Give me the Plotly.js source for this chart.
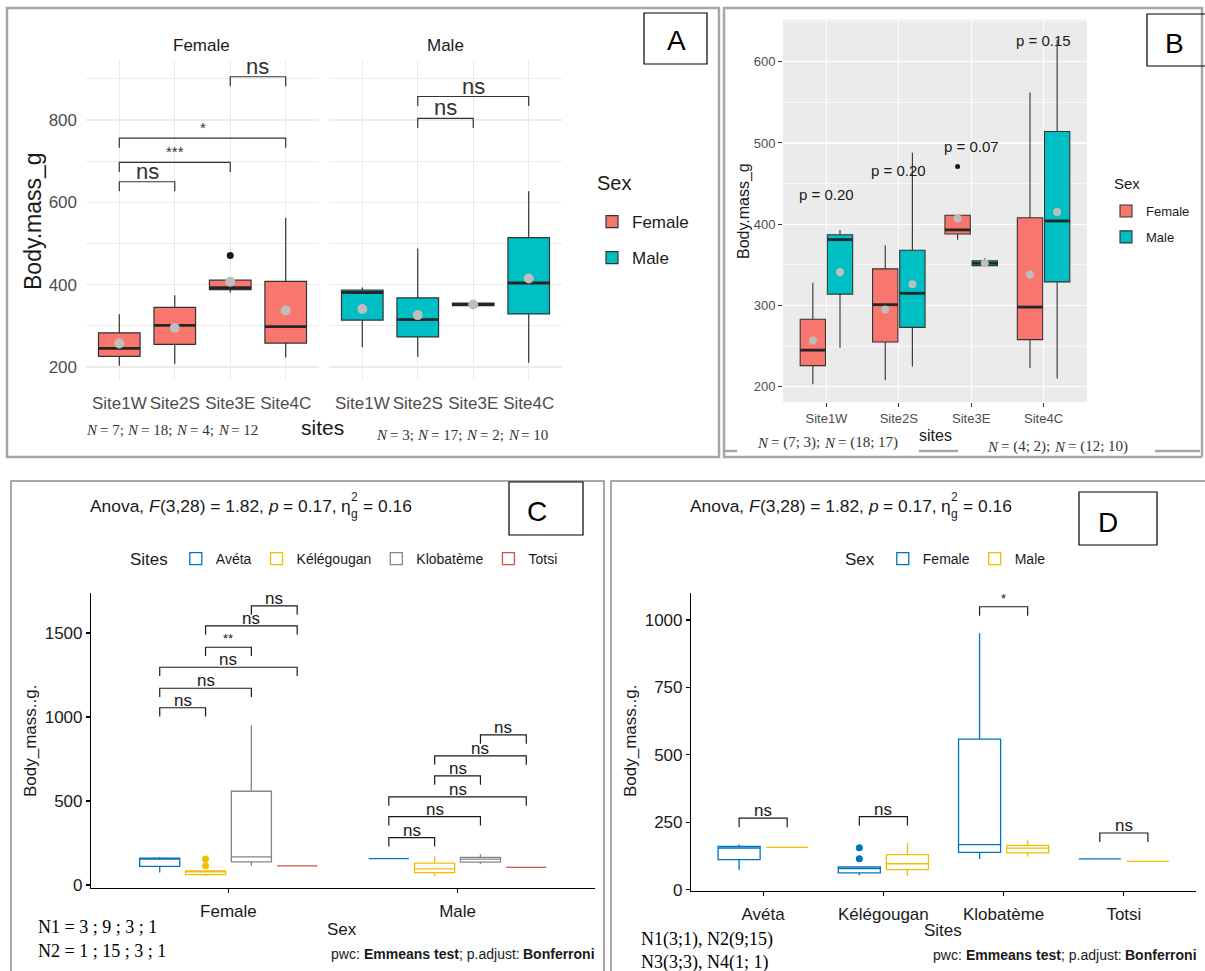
<!DOCTYPE html>
<html><head><meta charset="utf-8">
<script src="https://cdn.plot.ly/plotly-3.0.1.min.js"></script>
<style>html,body{margin:0;padding:0;background:#fff}</style>
</head><body><div id="chart" style="width:1205px;height:971px"></div>
<script>
// ---------- DATA : panels A & B ----------
const sitesAB = ['Site1W','Site2S','Site3E','Site4C'];
const femaleQ1     = [226, 255, 388, 258];
const femaleMedian = [245, 301, 393, 298];
const femaleQ3     = [283, 345, 411, 408];
const femaleLower  = [203, 208, 381, 223];
const femaleUpper  = [328, 374, 411, 562];
const femaleMean   = [257, 295, 407, 338];
const femaleOutlierSite  = [2];
const femaleOutlierValue = [471];
const maleQ1     = [314, 273, 349, 329];
const maleMedian = [381, 315, 352, 404];
const maleQ3     = [387, 368, 355, 514];
const maleLower  = [248, 225, 348, 210];
const maleUpper  = [393, 488, 358, 627];
const maleMean   = [341, 326, 352, 415];
const nFemaleAB = [7, 18, 4, 12];
const nMaleAB   = [3, 17, 2, 10];
// significance brackets, panel A
const compAFemaleFrom = [0, 0, 0, 2];
const compAFemaleTo   = [1, 2, 3, 3];
const compAFemaleY    = [650, 697, 756, 905];
const compAFemaleLab  = ['ns', '***', '*', 'ns'];
const compAMaleFrom = [1, 1];
const compAMaleTo   = [2, 3];
const compAMaleY    = [804, 857];
const compAMaleLab  = ['ns', 'ns'];
// p labels, panel B
const pLabelB = ['p = 0.20', 'p = 0.20', 'p = 0.07', 'p = 0.15'];
const pYB     = [436, 466, 496, 626];

// ---------- DATA : panels C & D ----------
const sitesCD = ['Avéta', 'Kélégougan', 'Klobatème', 'Totsi'];
const sexes = ['Female', 'Male'];
const fQ1  = [111, 62, 138, 114];
const fMed = [154, 78, 167, 114];
const fQ3  = [160, 84, 558, 114];
const fLo  = [74, 53, 114, 114];
const fHi  = [167, 84, 951, 114];
const fOutSite  = [1, 1];
const fOutValue = [115, 155];
const mQ1  = [157, 74, 136, 105];
const mMed = [157, 96, 154, 105];
const mQ3  = [157, 130, 164, 105];
const mLo  = [157, 52, 123, 105];
const mHi  = [157, 173, 183, 105];
const nFemaleCD = [3, 9, 3, 1];
const nMaleCD   = [1, 15, 3, 1];
// brackets panel C (site index pairs) per sex
const compCFrom = [0, 0, 0, 1, 1, 2];
const compCTo   = [1, 2, 3, 2, 3, 3];
const compCFemaleY   = [1055, 1171, 1296, 1415, 1542, 1661];
const compCFemaleLab = ['ns', 'ns', 'ns', '**', 'ns', 'ns'];
const compCMaleY     = [282, 407, 525, 649, 768, 893];
const compCMaleLab   = ['ns', 'ns', 'ns', 'ns', 'ns', 'ns'];
// brackets panel D (Female vs Male within site)
const compDY   = [265, 271, 1049, 210];
const compDLab = ['ns', 'ns', '*', 'ns'];

// ---------- STYLE ----------
const W = 1205, H = 971;
const PX = v => v / W, PY = v => 1 - v / H;
const FONT = 'Liberation Sans, Arial, sans-serif';
const SERIF = 'Liberation Serif, Times New Roman, serif';
const colF = '#F8766D', colM = '#00BFC4';
const jco = ['#0073C2', '#EFC000', '#868686', '#CD534C'];
const sexCol = ['#0073C2', '#EFC000'];
const traces = [], shapes = [], annotations = [];

function boxTrace(o) {
  traces.push({type: 'box', x: o.x, q1: o.q1, median: o.med, q3: o.q3, lowerfence: o.lo, upperfence: o.hi,
    width: o.w, fillcolor: o.fill, line: {color: o.line, width: o.lw}, whiskerwidth: 0, boxpoints: false,
    name: o.name, legend: o.legend, legendgroup: o.group, showlegend: o.showlegend,
    xaxis: o.xa, yaxis: o.ya, hoverinfo: 'skip'});
}
function medianOverlay(xs, med, w, xa, ya) {
  const X = [], Y = [];
  xs.forEach((x, i) => { X.push(x - w / 2, x + w / 2, null); Y.push(med[i], med[i], null); });
  traces.push({type: 'scatter', mode: 'lines', x: X, y: Y, xaxis: xa, yaxis: ya, showlegend: false,
    line: {color: '#262626', width: 2.8}, hoverinfo: 'skip'});
}
function points(xs, ys, xa, ya, color, size) {
  traces.push({type: 'scatter', mode: 'markers', x: xs, y: ys, xaxis: xa, yaxis: ya, showlegend: false,
    marker: {color: color, size: size}, hoverinfo: 'skip'});
}
function bracket(xa, ya, x1, x2, y, tip, label, size, color, yshift) {
  shapes.push({type: 'path', xref: xa, yref: ya, layer: 'above',
    path: `M${x1},${y - tip} L${x1},${y} L${x2},${y} L${x2},${y - tip}`,
    line: {color: color, width: 1.2}});
  annotations.push({xref: xa, yref: ya, x: (x1 + x2) / 2, y: y, text: label, showarrow: false,
    yanchor: 'bottom', yshift: yshift, font: {family: FONT, size: size, color: color}});
}
function txt(x, y, text, o) {
  o = o || {};
  annotations.push(Object.assign({xref: 'paper', yref: 'paper', x: PX(x), y: PY(y), text: text, showarrow: false,
    xanchor: 'center', yanchor: 'middle', font: {family: FONT, size: 16, color: '#1a1a1a'}}, o));
}
// rich text made of separately-styled pieces, positioned with measured widths
const ctx = document.createElement('canvas').getContext('2d');
function tw(t, p) {
  ctx.font = `${p.style || 'normal'} ${p.weight || 'normal'} ${p.size}px ${p.family || FONT}`;
  return ctx.measureText(t).width;
}
function rich(x0, y, pieces, align, color) {
  const widths = pieces.map(p => p.stack ? Math.max(...p.stack.map(s => tw(s.t, s))) : tw(p.t, p));
  const total = widths.reduce((a, b) => a + b, 0);
  let x = align === 'right' ? x0 - total : x0;
  pieces.forEach((p, i) => {
    const parts = p.stack ? p.stack : [p];
    parts.forEach(s => {
      const lead = s.t.length - s.t.replace(/^\s+/, '').length;
      const t = s.t.trim();
      if (!t) return;
      const dx = lead ? tw(s.t.slice(0, lead), s) : 0;
      annotations.push({xref: 'paper', yref: 'paper', x: PX(x + dx), y: PY(y + (s.dy || 0)), text: t, showarrow: false,
        xanchor: 'left', yanchor: 'middle', borderpad: 0, borderwidth: 0,
        font: {family: s.family || FONT, size: s.size, weight: s.weight || 'normal', style: s.style || 'normal', color: color}});
    });
    x += widths[i];
  });
}
function rect(x0, y0, x1, y1, color, width) {
  shapes.push({type: 'rect', xref: 'paper', yref: 'paper', x0: PX(x0), x1: PX(x1), y0: PY(y1), y1: PY(y0),
    line: {color: color, width: width}, fillcolor: 'rgba(0,0,0,0)', layer: 'above'});
}
function hline(x0, x1, y, color, width) {
  shapes.push({type: 'line', xref: 'paper', yref: 'paper', x0: PX(x0), x1: PX(x1), y0: PY(y), y1: PY(y),
    line: {color: color, width: width}, layer: 'above'});
}

// ---------- PANEL A ----------
const posA = sitesAB.map((_, i) => i);
boxTrace({x: posA, q1: femaleQ1, med: femaleMedian, q3: femaleQ3, lo: femaleLower, hi: femaleUpper, w: 0.75,
  fill: colF, line: '#333333', lw: 1.2, name: 'Female', legend: 'legend', group: 'aF', showlegend: true, xa: 'x', ya: 'y'});
medianOverlay(posA, femaleMedian, 0.75, 'x', 'y');
points(femaleOutlierSite, femaleOutlierValue, 'x', 'y', '#1a1a1a', 7);
points(posA, femaleMean, 'x', 'y', '#BEBEBE', 10);
boxTrace({x: posA, q1: maleQ1, med: maleMedian, q3: maleQ3, lo: maleLower, hi: maleUpper, w: 0.75,
  fill: colM, line: '#333333', lw: 1.2, name: 'Male', legend: 'legend', group: 'aM', showlegend: true, xa: 'x2', ya: 'y2'});
medianOverlay(posA, maleMedian, 0.75, 'x2', 'y2');
points(posA, maleMean, 'x2', 'y2', '#BEBEBE', 10);
const tipA = 0.03 * (945.7 - 168.4);
compAFemaleY.forEach((y, k) => {
  const big = compAFemaleLab[k] === 'ns';
  bracket('x', 'y', compAFemaleFrom[k], compAFemaleTo[k], y, tipA, compAFemaleLab[k], big ? 22 : 15, '#333333', big ? -4 : 0);
});
compAMaleY.forEach((y, k) => bracket('x2', 'y2', compAMaleFrom[k], compAMaleTo[k], y, tipA, compAMaleLab[k], 22, '#333333', -4));

// ---------- PANEL B ----------
const dB = 0.1875, wB = 0.35;
const posBF = sitesAB.map((_, i) => i - dB), posBM = sitesAB.map((_, i) => i + dB);
boxTrace({x: posBF, q1: femaleQ1, med: femaleMedian, q3: femaleQ3, lo: femaleLower, hi: femaleUpper, w: wB,
  fill: colF, line: '#333333', lw: 1.1, name: 'Female', legend: 'legend2', group: 'bF', showlegend: true, xa: 'x3', ya: 'y3'});
medianOverlay(posBF, femaleMedian, wB, 'x3', 'y3');
points(femaleOutlierSite.map(s => s - dB), femaleOutlierValue, 'x3', 'y3', '#1a1a1a', 5);
points(posBF, femaleMean, 'x3', 'y3', '#BEBEBE', 8);
boxTrace({x: posBM, q1: maleQ1, med: maleMedian, q3: maleQ3, lo: maleLower, hi: maleUpper, w: wB,
  fill: colM, line: '#333333', lw: 1.1, name: 'Male', legend: 'legend2', group: 'bM', showlegend: true, xa: 'x3', ya: 'y3'});
medianOverlay(posBM, maleMedian, wB, 'x3', 'y3');
points(posBM, maleMean, 'x3', 'y3', '#BEBEBE', 8);
pLabelB.forEach((t, i) => annotations.push({xref: 'x3', yref: 'y3', x: i, y: pYB[i], text: t, showarrow: false,
  font: {family: FONT, size: 15, color: '#1a1a1a'}}));
shapes.push({type: 'rect', xref: 'x3 domain', yref: 'y3 domain', x0: 0, x1: 1, y0: 0, y1: 1,
  fillcolor: '#EBEBEB', line: {width: 0}, layer: 'below'});

// ---------- PANEL C ----------
const offC = [-0.3, -0.1, 0.1, 0.3], wC = 0.175;
sitesCD.forEach((s, j) => {
  boxTrace({x: [0 + offC[j], 1 + offC[j]], q1: [fQ1[j], mQ1[j]], med: [fMed[j], mMed[j]], q3: [fQ3[j], mQ3[j]],
    lo: [fLo[j], mLo[j]], hi: [fHi[j], mHi[j]], w: wC, fill: 'rgba(255,255,255,0)', line: jco[j], lw: 1.3,
    name: s, legend: 'legend3', showlegend: true, xa: 'x4', ya: 'y4'});
});
points(fOutSite.map(s => 0 + offC[s]), fOutValue, 'x4', 'y4', jco[1], 7);
const tipC = 0.03 * (1738 + 17.9);
compCFemaleY.forEach((y, k) => bracket('x4', 'y4', 0 + offC[compCFrom[k]], 0 + offC[compCTo[k]], y, tipC,
  compCFemaleLab[k], compCFemaleLab[k] === 'ns' ? 17 : 13, '#1a1a1a', compCFemaleLab[k] === 'ns' ? -4 : -1));
compCMaleY.forEach((y, k) => bracket('x4', 'y4', 1 + offC[compCFrom[k]], 1 + offC[compCTo[k]], y, tipC,
  compCMaleLab[k], 17, '#1a1a1a', -4));

// ---------- PANEL D ----------
const offD = [-0.2, 0.2], wD = 0.35;
const statsD = [[fQ1, fMed, fQ3, fLo, fHi], [mQ1, mMed, mQ3, mLo, mHi]];
sexes.forEach((s, k) => {
  const st = statsD[k];
  boxTrace({x: sitesCD.map((_, i) => i + offD[k]), q1: st[0], med: st[1], q3: st[2], lo: st[3], hi: st[4], w: wD,
    fill: 'rgba(255,255,255,0)', line: sexCol[k], lw: 1.3, name: s, legend: 'legend4', showlegend: true, xa: 'x5', ya: 'y5'});
});
points(fOutSite.map(s => s + offD[0]), fOutValue, 'x5', 'y5', sexCol[0], 7);
const tipD = 0.03 * (1100 + 5);
compDY.forEach((y, i) => bracket('x5', 'y5', i + offD[0], i + offD[1], y, tipD, compDLab[i],
  compDLab[i] === 'ns' ? 17 : 13, '#1a1a1a', compDLab[i] === 'ns' ? -4 : -1));

// ---------- TEXTS ----------
txt(202, 45, 'Female', {font: {family: FONT, size: 17, color: '#1a1a1a'}});
txt(445, 45, 'Male', {font: {family: FONT, size: 17, color: '#1a1a1a'}});
txt(33, 221, 'Body.mass_g', {textangle: -90, font: {family: FONT, size: 23, color: '#1a1a1a'}});
txt(322, 428, 'sites', {font: {family: FONT, size: 21, color: '#1a1a1a'}});
txt(595, 183, 'Sex', {xanchor: 'left', font: {family: FONT, size: 20, color: '#1a1a1a'}});
txt(1112, 183, 'Sex', {xanchor: 'left', font: {family: FONT, size: 15, color: '#1a1a1a'}});
const S = (t, size, style) => ({t: t, size: size, family: SERIF, style: style});
const nPiecesA = (arr, size) => {
  const out = [];
  arr.forEach((n, i) => { out.push(S('N', size, 'italic')); out.push(S(' = ' + n + (i < arr.length - 1 ? '; ' : ''), size)); });
  return out;
};
rich(86, 430, nPiecesA(nFemaleAB, 15), 'left', '#333');
rich(376, 435, nPiecesA(nMaleAB, 15), 'left', '#333');
// B
txt(744, 211, 'Body.mass_g', {textangle: -90, font: {family: FONT, size: 16, color: '#1a1a1a'}});
txt(935, 435, 'sites', {font: {family: FONT, size: 16, color: '#1a1a1a'}});
const nPiecesB = (a, b, size) => [S('N', size, 'italic'), S(' = (' + nFemaleAB[a] + '; ' + nMaleAB[a] + '); ', size),
  S('N', size, 'italic'), S(' = (' + nFemaleAB[b] + '; ' + nMaleAB[b] + ')', size)];
rich(757, 443, nPiecesB(0, 1, 15), 'left', '#333');
rich(987, 447, nPiecesB(2, 3, 15), 'left', '#333');
// C & D
const subPieces = [{t: 'Anova, ', size: 17.4}, {t: 'F', size: 17.4, style: 'italic'}, {t: '(3,28) = 1.82, ', size: 17.4},
  {t: 'p', size: 17.4, style: 'italic'}, {t: ' = 0.17, ', size: 17.4}, {t: 'η', size: 17.4},
  {stack: [{t: '2', size: 12, dy: -9}, {t: 'g', size: 12, dy: 8}]}, {t: ' = 0.16', size: 17.4}];
rich(90, 506, subPieces, 'left', '#1a1a1a');
rich(690, 506, subPieces, 'left', '#1a1a1a');
txt(30, 741, 'Body_mass..g.', {textangle: -90, font: {family: FONT, size: 17, color: '#1a1a1a'}});
txt(630, 741, 'Body_mass..g.', {textangle: -90, font: {family: FONT, size: 17, color: '#1a1a1a'}});
txt(342, 929, 'Sex', {font: {family: FONT, size: 17, color: '#1a1a1a'}});
txt(943, 930, 'Sites', {font: {family: FONT, size: 17, color: '#1a1a1a'}});
const pwcPieces = [{t: 'pwc: ', size: 14}, {t: 'Emmeans test', size: 14, weight: 'bold'}, {t: '; p.adjust: ', size: 14},
  {t: 'Bonferroni', size: 14, weight: 'bold'}];
rich(595, 954, pwcPieces, 'right', '#1a1a1a');
rich(1197, 955, pwcPieces, 'right', '#1a1a1a');
txt(36, 927, 'N1 = ' + nFemaleCD.join(' ; '), {xanchor: 'left', font: {family: SERIF, size: 18, color: '#000'}});
txt(36, 951, 'N2 = ' + nMaleCD.join(' ; '), {xanchor: 'left', font: {family: SERIF, size: 18, color: '#000'}});
const nD = i => 'N' + (i + 1) + '(' + nFemaleCD[i] + ';' + (i === 3 ? ' ' : '') + nMaleCD[i] + ')';
txt(639, 939, nD(0) + ', ' + nD(1), {xanchor: 'left', font: {family: SERIF, size: 18, color: '#000'}});
txt(639, 962, nD(2) + ', ' + nD(3), {xanchor: 'left', font: {family: SERIF, size: 18, color: '#000'}});

// ---------- FRAMES & LETTERS ----------
rect(7, 8, 719, 457, '#A6A6A6', 2.5);
shapes.push({type: 'path', xref: 'paper', yref: 'paper', layer: 'above', line: {color: '#A6A6A6', width: 2.5},
  path: `M${PX(1202)},${PY(457)} L${PX(724)},${PY(457)} L${PX(724)},${PY(8)} L${PX(1202)},${PY(8)} L${PX(1202)},${PY(457)}`});
hline(725, 737, 451, '#A6A6A6', 2.5); hline(919, 958, 451, '#A6A6A6', 2.5); hline(1155, 1200, 451, '#A6A6A6', 2.5);
rect(11, 481, 604, 980, '#8C8C8C', 1.5);
rect(611, 481, 1215, 980, '#8C8C8C', 1.5);
rect(644, 13, 707, 64, '#000', 1.2); txt(676, 40, 'A', {font: {family: FONT, size: 28, color: '#000'}});
rect(1147, 14, 1215, 66, '#000', 1.2); txt(1174, 43, 'B', {font: {family: FONT, size: 28, color: '#000'}});
rect(509, 482, 583, 535, '#000', 1.2); txt(537, 511, 'C', {font: {family: FONT, size: 28, color: '#000'}});
rect(1079, 492, 1157, 545, '#000', 1.2); txt(1108, 522, 'D', {font: {family: FONT, size: 28, color: '#000'}});

// ---------- AXES ----------
const gridA = '#EBEBEB';
const axA_x = dom => ({domain: dom, range: [-0.6, 3.6], tickvals: posA, ticktext: sitesAB, showgrid: true, gridcolor: gridA,
  gridwidth: 1.1, zeroline: false, showline: false, ticks: '', ticklabelstandoff: 11,
  tickfont: {family: FONT, size: 17, color: '#4D4D4D'}, fixedrange: true});
const axA_y = (dom, showlab) => ({domain: dom, range: [168.4, 945.7], tickmode: 'linear', tick0: 200, dtick: 200,
  minor: {tickmode: 'linear', tick0: 100, dtick: 100, showgrid: true, gridcolor: gridA, gridwidth: 1.1},
  showgrid: true, gridcolor: gridA, gridwidth: 1.1, zeroline: false, showline: false, ticks: '', showticklabels: showlab,
  ticklabelstandoff: 8, tickfont: {family: FONT, size: 17, color: '#4D4D4D'}, fixedrange: true});
const axCD = o => Object.assign({showline: true, linecolor: '#000', linewidth: 1.1, ticks: 'outside', ticklen: 4,
  tickcolor: '#000', tickwidth: 1.1, showgrid: false, zeroline: false,
  tickfont: {family: FONT, size: 17, color: '#1a1a1a'}, fixedrange: true}, o);

const layout = {
  width: W, height: H, margin: {l: 0, r: 0, t: 0, b: 0}, paper_bgcolor: '#fff', plot_bgcolor: 'rgba(0,0,0,0)',
  boxmode: 'overlay', showlegend: true, font: {family: FONT},
  xaxis: Object.assign(axA_x([PX(86), PX(319)]), {anchor: 'y'}),
  yaxis: Object.assign(axA_y([PY(380), PY(60)], true), {anchor: 'x'}),
  xaxis2: Object.assign(axA_x([PX(329), PX(562)]), {anchor: 'y2'}),
  yaxis2: Object.assign(axA_y([PY(380), PY(60)], false), {anchor: 'x2', matches: 'y'}),
  xaxis3: {domain: [PX(783), PX(1087)], anchor: 'y3', range: [-0.6, 3.6], tickvals: posA, ticktext: sitesAB,
    showgrid: true, gridcolor: '#fff', gridwidth: 1.2, zeroline: false, ticks: 'outside', ticklen: 4, tickcolor: '#333',
    tickfont: {family: FONT, size: 13, color: '#4D4D4D'}, fixedrange: true},
  yaxis3: {domain: [PY(402), PY(20)], anchor: 'x3', range: [181.2, 651.3], tickmode: 'linear', tick0: 200, dtick: 100,
    minor: {tickmode: 'linear', tick0: 150, dtick: 50, showgrid: true, gridcolor: '#fff', gridwidth: 0.6},
    showgrid: true, gridcolor: '#fff', gridwidth: 1.2, zeroline: false, ticks: 'outside', ticklen: 4, tickcolor: '#333',
    tickfont: {family: FONT, size: 13, color: '#4D4D4D'}, fixedrange: true},
  xaxis4: axCD({domain: [PX(91), PX(595)], anchor: 'y4', range: [-0.6, 1.6], tickvals: [0, 1], ticktext: sexes, ticklabelstandoff: 3}),
  yaxis4: axCD({domain: [PY(888), PY(593)], anchor: 'x4', range: [-17.9, 1738], tickvals: [0, 500, 1000, 1500]}),
  xaxis5: axCD({domain: [PX(691), PX(1196)], anchor: 'y5', range: [-0.6, 3.6], tickvals: [0, 1, 2, 3], ticktext: sitesCD, ticklabelstandoff: 3}),
  yaxis5: axCD({domain: [PY(891), PY(593)], anchor: 'x5', range: [-5, 1100], tickvals: [0, 250, 500, 750, 1000]}),
  legend: {x: PX(592), y: PY(204), xanchor: 'left', yanchor: 'top', bgcolor: 'rgba(0,0,0,0)', tracegroupgap: 11,
    font: {family: FONT, size: 17, color: '#1a1a1a'}},
  legend2: {x: PX(1106), y: PY(196), xanchor: 'left', yanchor: 'top', bgcolor: 'rgba(0,0,0,0)', tracegroupgap: 6,
    font: {family: FONT, size: 13, color: '#1a1a1a'}},
  legend3: {orientation: 'h', x: PX(128), y: PY(543), xanchor: 'left', yanchor: 'top', bgcolor: 'rgba(0,0,0,0)',
    title: {text: 'Sites', side: 'left', font: {family: FONT, size: 17, color: '#1a1a1a'}}, font: {family: FONT, size: 14, color: '#1a1a1a'}},
  legend4: {orientation: 'h', x: PX(843), y: PY(543), xanchor: 'left', yanchor: 'top', bgcolor: 'rgba(0,0,0,0)',
    title: {text: 'Sex', side: 'left', font: {family: FONT, size: 17, color: '#1a1a1a'}}, font: {family: FONT, size: 14, color: '#1a1a1a'}},
  shapes: shapes, annotations: annotations
};
Plotly.newPlot('chart', traces, layout, {staticPlot: true, displayModeBar: false});
</script></body></html>
